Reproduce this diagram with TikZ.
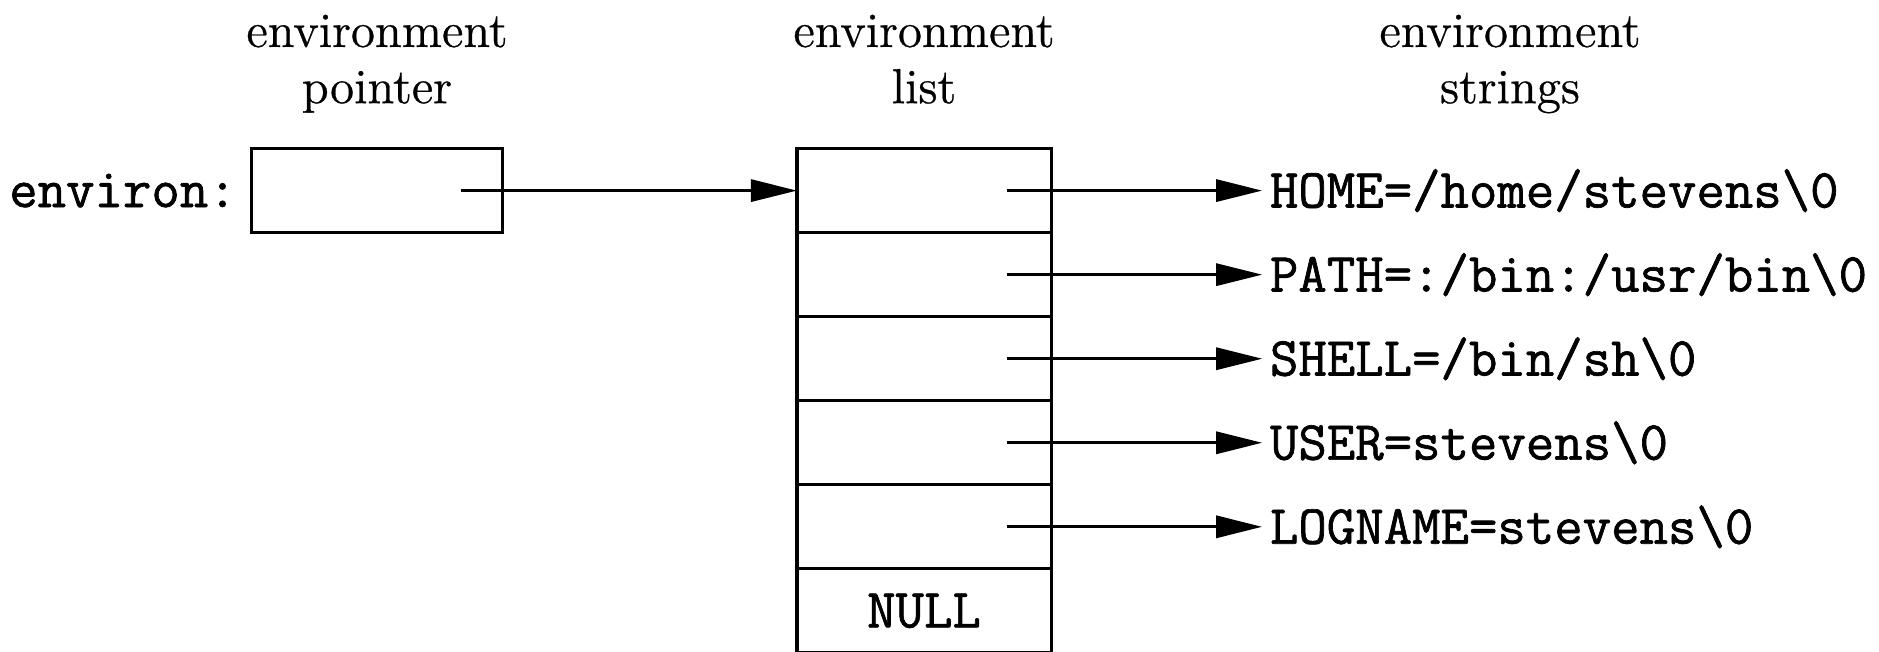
\documentclass[tikz,border=0pt]{standalone}
\usepackage{fontspec}
\setmainfont{Latin Modern Roman}[FakeBold=0.6]
\setmonofont{Latin Modern Mono}[FakeBold=1.2]
\usepackage{tikz}
\usetikzlibrary{matrix,positioning,arrows.meta}

\tikzset{
	cell/.style={draw, line width=0.9pt, minimum width=2.54cm, minimum height=0.84cm, inner sep=0pt, outer sep=0pt},
	code/.style={font=\fontsize{15.7}{18}\selectfont\ttfamily, inner sep=0pt},
	heading/.style={font=\fontsize{14}{16}\selectfont, align=center, text depth=4pt},
	ptr/.style={-{Triangle[length=4.6mm,width=2.2mm]}, line width=0.9pt},
}

\begin{document}
\begin{tikzpicture}[x=0.01cm, y=-0.01cm]
\useasboundingbox (0,0) rectangle (1879,651);

% headings
\node[heading] (hp) at (377,66) {environment\\pointer};
\node[heading] (hl) at (924,66) {environment\\list};
\node[heading] (hs) at (1510,66) {environment\\strings};

% the array of pointers
\matrix (envl) [matrix of nodes, nodes in empty cells, row sep=-0.9pt, inner sep=0pt, outer sep=0pt, nodes={cell}, anchor=north] at (924,147)
{
	\\
	\\
	\\
	\\
	\\
	|[code]| NULL \\
};

% the pointer variable
\node[cell, minimum width=2.51cm] (envp) at (hp |- envl-1-1) {};
\node[code, left=0.14cm of envp] (envname) {environ:};

\draw[ptr] ([xshift=-0.42cm]envp.east) -- (envl-1-1.west);

% the strings
\foreach \i/\s in {1/{HOME=/home/stevens\textbackslash 0},
                   2/{PATH=:/bin:/usr/bin\textbackslash 0},
                   3/{SHELL=/bin/sh\textbackslash 0},
                   4/{USER=stevens\textbackslash 0},
                   5/{LOGNAME=stevens\textbackslash 0}}
{
	\node[code, inner xsep=2pt, right=2.11cm of envl-\i-1.east] (str\i) {\s};
	\draw[ptr] ([xshift=-0.44cm]envl-\i-1.east) -- (str\i.west);
}
\end{tikzpicture}
\end{document}
